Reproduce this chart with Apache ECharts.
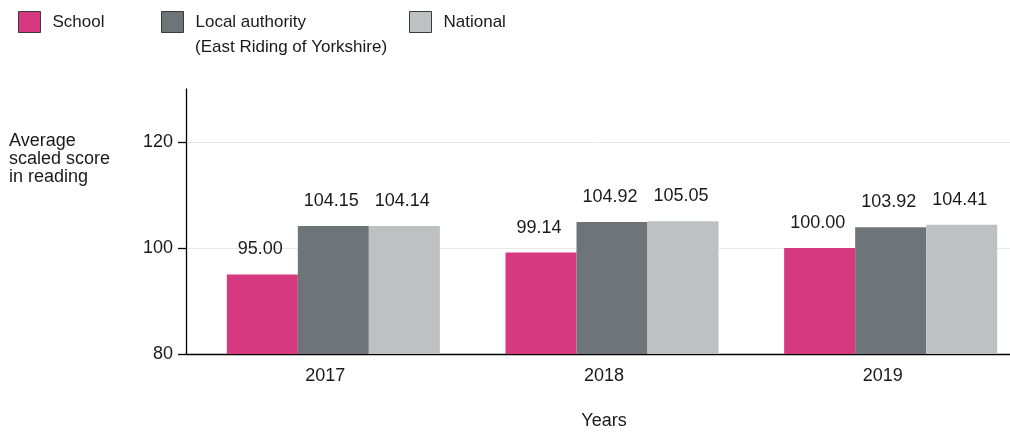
<!DOCTYPE html>
<html>
<head>
<meta charset="utf-8">
<script src="https://cdn.jsdelivr.net/npm/echarts@6/dist/echarts.min.js"></script>
<style>html,body{margin:0;padding:0;background:#fff}#c{width:1010px;height:433px}</style>
</head>
<body>
<div id="c"></div>
<script>
var categories = ['2017', '2018', '2019'];
var schoolValues = [95.00, 99.14, 100.00];
var localAuthorityValues = [104.15, 104.92, 103.92];
var nationalValues = [104.14, 105.05, 104.41];
var seriesNames = ['School', 'Local authority', 'National'];
var localAuthoritySubtitle = '(East Riding of Yorkshire)';
var yAxisTitle = 'Average\nscaled score\nin reading';
var xAxisTitle = 'Years';

var FONT = 'Liberation Sans, Arial, sans-serif';
var FS = 18;
var LFS = 17;
var TXT = '#1a1a1a';
var colors = ['#D6397F', '#6E7578', '#BFC0C2'];

var chart = echarts.init(document.getElementById('c'), null, {renderer: 'canvas'});

function legendAt(left, name) {
  return {
    left: left, top: 11, orient: 'horizontal', padding: 0,
    data: [name], itemWidth: 22, itemHeight: 21,
    icon: 'rect', selectedMode: false,
    itemStyle: {borderColor: '#3a3a3a', borderWidth: 1},
    textStyle: {fontFamily: FONT, fontSize: LFS, color: TXT, padding: [0, 0, 0, 7]}
  };
}

var labelCfg = {
  show: true, position: 'top', distance: 16, offset: [-2, 0],
  fontFamily: FONT, fontSize: FS, color: TXT,
  formatter: function (p) { return Number(p.value).toFixed(2); }
};

chart.setOption({
  animation: false,
  textStyle: {fontFamily: FONT},
  legend: [legendAt(18, seriesNames[0]), legendAt(161, seriesNames[1]), legendAt(409, seriesNames[2])],
  graphic: [
    {type: 'text', left: 195, top: 39, style: {text: localAuthoritySubtitle, font: LFS + 'px ' + FONT, fill: TXT}},
    {type: 'text', left: 9, top: 132, style: {text: yAxisTitle, font: FS + 'px ' + FONT, fill: TXT, lineHeight: 18}}
  ],
  grid: {left: 186, top: 89, width: 836, height: 265, containLabel: false, outerBoundsMode: 'none'},
  xAxis: {
    type: 'category', data: categories,
    name: xAxisTitle, nameLocation: 'middle', nameGap: 58,
    nameTextStyle: {fontFamily: FONT, fontSize: FS, color: TXT},
    axisLine: {lineStyle: {color: '#000', width: 1.3}},
    axisTick: {alignWithLabel: true, length: 8, lineStyle: {color: '#000', width: 1.3}},
    axisLabel: {fontFamily: FONT, fontSize: FS, color: TXT, margin: 13}
  },
  yAxis: {
    type: 'value', min: 80, max: 130, interval: 20,
    axisLine: {show: true, lineStyle: {color: '#000', width: 1.3}},
    axisTick: {show: true, length: 8, lineStyle: {color: '#000', width: 1.3}},
    axisLabel: {fontFamily: FONT, fontSize: FS, color: TXT, margin: 13, showMaxLabel: false},
    splitLine: {show: true, showMinLine: false, showMaxLine: false, lineStyle: {color: '#e8e8e8', width: 1}}
  },
  series: [
    {name: 'spacer', type: 'bar', data: [], barWidth: 16, barGap: '0%', silent: true},
    {name: seriesNames[0], type: 'bar', data: schoolValues, barWidth: 71, barGap: '0%',
     itemStyle: {color: colors[0]}, label: labelCfg},
    {name: seriesNames[1], type: 'bar', data: localAuthorityValues, barWidth: 71, barGap: '0%',
     itemStyle: {color: colors[1]}, label: labelCfg},
    {name: seriesNames[2], type: 'bar', data: nationalValues, barWidth: 71, barGap: '0%',
     itemStyle: {color: colors[2]}, label: labelCfg}
  ]
});
</script>
</body>
</html>
